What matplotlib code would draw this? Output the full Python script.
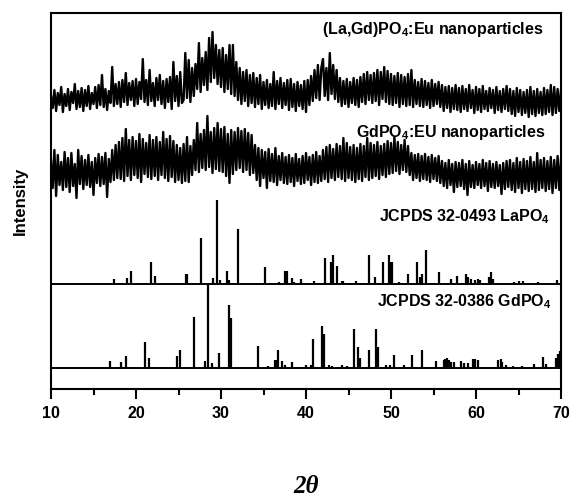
import numpy as np
import matplotlib
matplotlib.use("Agg")
import matplotlib.pyplot as plt

plt.rcParams['font.family'] = ['Liberation Sans', 'DejaVu Sans']
plt.rcParams['font.weight'] = 'bold'
plt.rcParams['mathtext.default'] = 'regular'

# ---------------- data ----------------
two_theta_start = 10.0
two_theta_step = 0.2

# (La,Gd)PO4:Eu nanoparticles, relative intensity
lagd_nano = [
    24, 12, 30, 9, 27, 15, 33, 8, 26, 14,
    31, 10, 28, 17, 36, 11, 29, 13, 32, 9,
    30, 14, 34, 11, 27, 16, 33, 12, 35, 15,
    45, 13, 31, 10, 29, 17, 53, 14, 36, 16,
    38, 13, 40, 18, 47, 15, 37, 20, 39, 14,
    41, 16, 38, 21, 61, 18, 40, 15, 50, 19,
    37, 14, 42, 20, 45, 16, 39, 12, 41, 18,
    43, 11, 58, 19, 44, 14, 48, 17, 20, 67,
    22, 60, 18, 52, 24, 56, 31, 77, 28, 62,
    35, 68, 30, 82, 38, 88, 42, 75, 36, 70,
    33, 72, 28, 65, 31, 75, 26, 75, 24, 58,
    20, 52, 16, 48, 19, 50, 14, 45, 17, 47,
    13, 42, 16, 45, 11, 38, 15, 40, 12, 36,
    14, 48, 11, 39, 16, 42, 12, 37, 15, 40,
    10, 41, 13, 36, 9, 38, 14, 35, 11, 39,
    8, 40, 15, 44, 19, 50, 22, 55, 20, 52,
    61, 24, 52, 20, 67, 26, 55, 21, 50, 18,
    42, 14, 39, 16, 41, 13, 38, 17, 42, 15,
    40, 13, 43, 18, 46, 16, 48, 20, 45, 17,
    47, 19, 50, 15, 48, 21, 53, 18, 49, 16,
    46, 15, 44, 17, 47, 13, 45, 16, 43, 14,
    46, 15, 50, 13, 40, 16, 38, 14, 41, 13,
    39, 15, 37, 12, 40, 14, 36, 16, 38, 13,
    35, 9, 33, 12, 34, 8, 32, 11, 35, 10,
    32, 8, 34, 11, 31, 9, 35, 12, 30, 7,
    33, 10, 31, 8, 34, 11, 29, 9, 32, 12,
    30, 7, 33, 10, 29, 8, 31, 11, 34, 9,
    31, 6, 29, 4, 32, 8, 30, 5, 28, 7,
    30, 3, 33, 6, 29, 4, 31, 7, 28, 5,
    32, 6, 30, 8, 35, 5, 33, 7, 31, 9,
    30,
]

# GdPO4:Eu nanoparticles, relative intensity
gd_nano = [
    40, 12, 50, 4, 45, 15, 38, 10, 48, 13,
    42, 8, 47, 14, 36, 2, 50, 16, 44, 11,
    40, 15, 45, 13, 38, 5, 42, 17, 46, 14,
    43, 16, 47, 3, 41, 18, 50, 20, 55, 22,
    58, 21, 62, 19, 71, 24, 60, 20, 63, 25,
    59, 22, 66, 18, 61, 26, 57, 23, 65, 21,
    60, 24, 63, 20, 58, 25, 68, 22, 61, 19,
    64, 23, 59, 18, 55, 20, 52, 17, 56, 19,
    63, 18, 54, 25, 60, 30, 77, 28, 66, 32,
    70, 30, 84, 33, 68, 27, 72, 31, 77, 29,
    71, 28, 73, 24, 66, 17, 70, 26, 68, 30,
    72, 32, 69, 28, 71, 30, 67, 25, 65, 27,
    55, 20, 52, 14, 50, 22, 48, 12, 51, 19,
    46, 18, 52, 15, 44, 20, 47, 17, 43, 16,
    45, 18, 42, 14, 46, 19, 41, 16, 44, 17,
    47, 20, 43, 15, 45, 18, 48, 17, 44, 19,
    50, 21, 53, 18, 55, 22, 51, 20, 56, 23,
    54, 21, 62, 19, 57, 22, 53, 20, 55, 18,
    52, 21, 56, 19, 54, 23, 62, 20, 57, 22,
    55, 24, 58, 21, 54, 25, 56, 23, 59, 26,
    57, 27, 63, 29, 58, 26, 55, 30, 60, 28,
    54, 25, 47, 20, 45, 22, 46, 19, 44, 21,
    46, 20, 43, 18, 45, 21, 42, 19, 44, 17,
    39, 14, 37, 12, 40, 15, 36, 8, 38, 13,
    37, 14, 40, 11, 36, 5, 39, 13, 35, 12,
    38, 15, 36, 12, 40, 14, 37, 9, 39, 13,
    36, 12, 38, 14, 35, 6, 37, 11, 39, 13,
    40, 10, 37, 8, 42, 12, 38, 7, 41, 11,
    39, 9, 43, 11, 38, 8, 47, 10, 40, 12,
    42, 9, 39, 11, 43, 7, 40, 12, 44, 10,
    41,
]

# JCPDS 32-0493 LaPO4 reference lines
la_pos = [17.38, 18.90, 19.41, 21.76, 22.27, 25.90, 26.05, 27.69, 29.10, 29.53,
          29.92, 30.65, 30.94, 31.96, 35.18, 36.86, 37.55, 37.72, 38.39, 38.60,
          39.41, 40.98, 42.27, 42.90, 43.14, 43.69, 44.20, 44.30, 45.85, 47.43,
          48.16, 49.10, 49.73, 50.00, 50.15, 50.98, 52.04, 53.02, 53.45, 53.65,
          54.08, 55.65, 57.06, 57.76, 58.85, 59.00, 59.40, 59.90, 60.20, 60.50,
          61.50, 61.76, 62.00, 64.50, 65.00, 65.50, 67.30, 69.48]
la_int = [6, 7, 16, 26, 10, 12, 12, 55, 7, 100,
          5, 16, 5, 65, 20, 2, 16, 16, 7, 2,
          6, 4, 31, 26, 35, 21, 4, 4, 4, 35,
          8, 26, 35, 26, 26, 2, 12, 26, 8, 12,
          40, 14, 6, 10, 12, 8, 6, 5, 6, 5,
          8, 14, 6, 2, 4, 4, 2, 5]

# JCPDS 32-0386 GdPO4 reference lines
gd_pos = [16.98, 18.27, 18.78, 21.10, 21.53, 24.86, 25.18, 26.82, 28.16, 28.51,
          28.90, 29.73, 30.90, 31.14, 34.35, 35.57, 36.35, 36.51, 36.70, 37.14,
          37.49, 38.31, 39.96, 40.59, 40.82, 41.92, 42.12, 42.71, 43.10, 44.20,
          44.82, 45.69, 46.08, 46.31, 47.43, 48.24, 48.47, 49.41, 49.92, 50.31,
          51.49, 52.51, 53.69, 55.26, 56.20, 56.40, 56.60, 56.80, 57.00, 57.45,
          58.24, 58.55, 59.10, 59.70, 59.90, 60.20, 62.60, 62.90, 63.10, 63.57,
          64.40, 65.40, 66.80, 67.90, 68.27, 69.40, 69.65, 69.84]
gd_int = [8, 7, 14, 31, 12, 14, 21, 61, 8, 100,
          6, 18, 75, 60, 26, 2, 10, 10, 21, 8,
          3, 7, 3, 3, 35, 50, 40, 3, 2, 3,
          2, 46, 25, 12, 21, 46, 25, 3, 3, 16,
          3, 16, 21, 8, 10, 11, 12, 10, 7, 7,
          8, 6, 6, 11, 11, 10, 10, 11, 7, 3,
          2, 2, 5, 13, 5, 12, 17, 20]

labels = ["(La,Gd)PO$_4$:Eu nanoparticles", "GdPO$_4$:EU nanoparticles",
          "JCPDS 32-0493 LaPO$_4$", "JCPDS 32-0386 GdPO$_4$"]
xticks = [10, 20, 30, 40, 50, 60, 70]

# ---------------- layout ----------------
off_lagd = 269
off_gdn = 189
base_la = 105
base_gd = 21
stick_scale = 0.84

fig = plt.figure(figsize=(5.72, 4.97), dpi=100)
ax = fig.add_axes([51 / 572, 108 / 497, 510 / 572, 376 / 497])

x1 = two_theta_start + two_theta_step * np.arange(len(lagd_nano))
x2 = two_theta_start + two_theta_step * np.arange(len(gd_nano))
ax.plot(x1, np.array(lagd_nano) + off_lagd, color='black', lw=1.7)
ax.plot(x2, np.array(gd_nano) + off_gdn, color='black', lw=1.7)

ax.vlines(la_pos, base_la, base_la + np.array(la_int) * stick_scale, color='black', lw=1.6)
ax.vlines(gd_pos, base_gd, base_gd + np.array(gd_int) * stick_scale, color='black', lw=1.6)
ax.axhline(base_la, color='black', lw=1.4)
ax.axhline(base_gd, color='black', lw=1.4)

tfs = 11.5
ax.text(68.0, 360, labels[0], ha='right', va='center', fontsize=tfs, fontweight='bold')
ax.text(68.2, 257, labels[1], ha='right', va='center', fontsize=tfs, fontweight='bold')
ax.text(68.7, 172, labels[2], ha='right', va='center', fontsize=tfs, fontweight='bold')
ax.text(68.9, 87, labels[3], ha='right', va='center', fontsize=tfs, fontweight='bold')

ax.set_xlim(10, 70)
ax.set_ylim(0, 376)
ax.set_yticks([])
ax.set_xticks(xticks)
ax.set_xticks(np.arange(15, 70, 10), minor=True)
ax.tick_params(axis='x', which='major', direction='out', length=7, width=1.5,
               labelsize=11.5, pad=5)
ax.tick_params(axis='x', which='minor', direction='out', length=4, width=1.5)
for lab in ax.get_xticklabels():
    lab.set_fontweight('bold')
for s in ax.spines.values():
    s.set_linewidth(1.5)

ax.set_ylabel("Intensity", fontsize=12, fontweight='bold')
ax.yaxis.set_label_coords(-0.061, 0.5)
ax.yaxis.label.set_va('center')
ax.set_xlabel("2θ", fontsize=18, fontweight='bold', fontstyle='italic',
              family=['Liberation Serif', 'DejaVu Serif'])
ax.xaxis.set_label_coords(0.5, -0.26)
ax.xaxis.label.set_va('center')

fig.savefig("out.png", dpi=100)
